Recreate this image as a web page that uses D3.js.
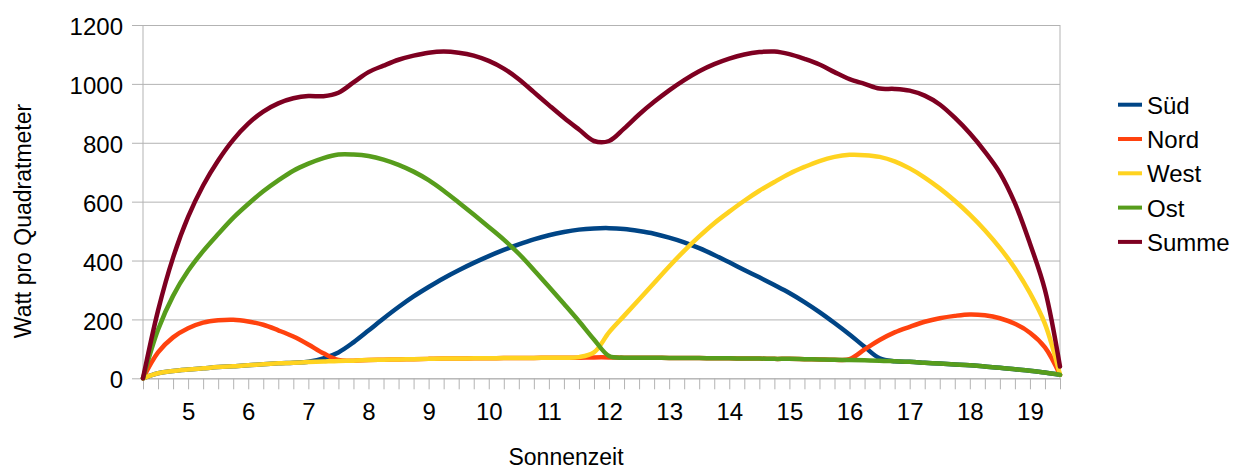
<!DOCTYPE html>
<html>
<head>
<meta charset="utf-8">
<script src="https://cdn.jsdelivr.net/npm/d3@7"></script>
<style>
  html, body { margin: 0; padding: 0; background: #fff; }
  svg { display: block; font-family: "Liberation Sans", Arial, sans-serif; }
</style>
</head>
<body>
<svg id="chart" width="1236" height="470"></svg>
<script>
// Categories: solar time, quarter-hour steps
const categories = ["4:15","4:30","4:45","5:00","5:15","5:30","5:45","6:00","6:15","6:30","6:45","7:00","7:15","7:30","7:45","8:00","8:15","8:30","8:45","9:00","9:15","9:30","9:45","10:00","10:15","10:30","10:45","11:00","11:15","11:30","11:45","12:00","12:15","12:30","12:45","13:00","13:15","13:30","13:45","14:00","14:15","14:30","14:45","15:00","15:15","15:30","15:45","16:00","16:15","16:30","16:45","17:00","17:15","17:30","17:45","18:00","18:15","18:30","18:45","19:00","19:15","19:30"];

const sued  = [0,17,25,30,34,38,41,44,48,51,53,56,68,88,122,162,203,242,278,310,340,367,392,415,436,455,472,486,497,505,509,510,507,500,491,478,462,442,419,394,368,343,317,290,259,225,188,149,107,68,58,56,53,50,47,44,40,36,31,26,20,12];
const nord  = [0,88,139,170,189,197,199,193,182,163,142,115,85,62,60,62,63,64,65,66,67,67,68,68,69,69,69,70,70,70,71,71,70,70,70,69,69,69,68,68,67,67,66,66,65,64,63,65,98,130,156,175,192,204,212,217,214,204,185,155,105,12];
const west  = [0,17,25,30,34,38,41,44,48,51,53,55,57,59,60,62,63,64,65,66,67,67,68,68,69,69,69,70,70,72,88,156,212,268,324,380,433,482,527,566,603,637,667,695,718,738,752,759,758,752,737,713,682,645,603,556,503,443,374,290,185,12];
const ost   = [0,165,280,365,432,490,545,592,635,672,705,729,748,760,760,755,743,725,702,673,637,597,556,514,471,423,368,311,253,194,132,76,70,70,70,69,69,69,68,68,67,67,66,66,65,64,63,62,61,60,58,56,53,50,47,44,40,36,31,26,20,12];
const summe = [0,230,410,548,655,740,810,865,906,934,951,959,958,970,1005,1040,1062,1082,1096,1106,1110,1106,1096,1078,1052,1016,972,928,885,845,806,806,848,896,939,978,1013,1043,1067,1086,1100,1108,1110,1101,1085,1066,1040,1016,1000,984,983,977,960,930,885,832,770,698,595,458,300,40];

const seriesNames = ["Süd","Nord","West","Ost","Summe"];
const seriesValues = [sued, nord, west, ost, summe];
const seriesColors = ["#004586","#ff420e","#ffd320","#579d1c","#7e0021"];

const yTicks = [0,200,400,600,800,1000,1200];
const xLabelHours = ["5:00","6:00","7:00","8:00","9:00","10:00","11:00","12:00","13:00","14:00","15:00","16:00","17:00","18:00","19:00"];

const xAxisTitle = "Sonnenzeit";
const yAxisTitle = "Watt pro Quadratmeter";

const svg = d3.select("#chart");
const L = 143, R = 1060, T = 25, B = 378.3;
const grid = "#b3b3b3";

const x = d3.scalePoint().domain(categories).range([L, R]);
const y = d3.scaleLinear().domain([0, 1200]).range([B, T]);

// horizontal gridlines + y labels
const gy = svg.append("g").attr("transform", `translate(${L - 11},0)`)
  .call(d3.axisLeft(y).tickValues(yTicks).tickFormat(d3.format("d"))
    .tickSizeInner(-(R - L + 11)).tickSizeOuter(0).tickPadding(9));
gy.select(".domain").remove();
gy.selectAll(".tick line").attr("stroke", grid).attr("stroke-width", 1);
gy.selectAll(".tick text").attr("font-size", 24).attr("fill", "#000").attr("dy", "0.4em")
  .attr("font-family", "Liberation Sans, Arial, sans-serif");

// plot border lines (left axis, right edge)
svg.append("line").attr("x1", L).attr("x2", L).attr("y1", T).attr("y2", B).attr("stroke", grid);
svg.append("line").attr("x1", R).attr("x2", R).attr("y1", T).attr("y2", B).attr("stroke", grid);

// x axis
const gx = svg.append("g").attr("transform", `translate(0,${B})`)
  .call(d3.axisBottom(x).tickValues(categories).tickSizeInner(11).tickSizeOuter(0).tickPadding(14)
    .tickFormat(d => xLabelHours.includes(d) ? d.split(":")[0] : ""));
gx.select(".domain").attr("stroke", grid);
gx.selectAll(".tick line").attr("stroke", grid);
gx.selectAll(".tick text").attr("font-size", 24).attr("fill", "#000")
  .attr("font-family", "Liberation Sans, Arial, sans-serif");

// lines
const line = d3.line().x((d, i) => x(categories[i])).y(d => y(d)).curve(d3.curveCatmullRom.alpha(0.5));
seriesValues.forEach((vals, k) => {
  svg.append("path").datum(vals).attr("d", line)
    .attr("fill", "none").attr("stroke", seriesColors[k]).attr("stroke-width", 4.5)
    .attr("stroke-linejoin", "round").attr("stroke-linecap", "round");
});

// legend
const lg = svg.append("g");
seriesNames.forEach((n, k) => {
  const yy = 104.7 + k * 34.3;
  lg.append("line").attr("x1", 1118).attr("x2", 1142).attr("y1", yy).attr("y2", yy)
    .attr("stroke", seriesColors[k]).attr("stroke-width", 4);
  lg.append("text").attr("x", 1147).attr("y", yy + 9).attr("font-size", 24).attr("fill", "#000").text(n);
});

// axis titles
svg.append("text").attr("x", 566).attr("y", 465).attr("text-anchor", "middle").attr("font-size", 23).attr("fill", "#000").text(xAxisTitle);
svg.append("text").attr("transform", "translate(31,221) rotate(-90)").attr("text-anchor", "middle").attr("font-size", 23).attr("fill", "#000").text(yAxisTitle);
</script>
</body>
</html>
